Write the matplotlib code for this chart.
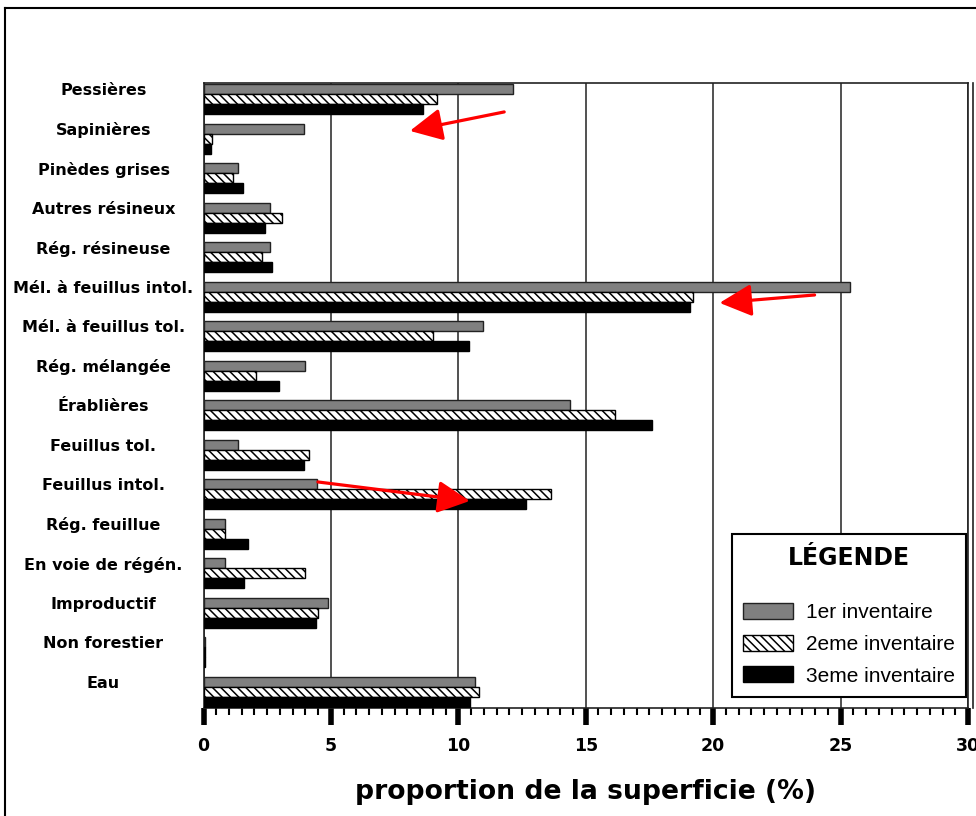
import numpy as np
import matplotlib
matplotlib.use('Agg')
import matplotlib.pyplot as plt
from matplotlib.lines import Line2D
from matplotlib.ticker import MultipleLocator

plt.rcParams['font.family'] = ['Liberation Sans', 'DejaVu Sans']
plt.rcParams['hatch.linewidth'] = 1.1

categories = ['Pessières', 'Sapinières', 'Pinèdes grises', 'Autres résineux',
              'Rég. résineuse', 'Mél. à feuillus intol.', 'Mél. à feuillus tol.',
              'Rég. mélangée', 'Érablières', 'Feuillus tol.', 'Feuillus intol.',
              'Rég. feuillue', 'En voie de régén.', 'Improductif', 'Non forestier', 'Eau']
inv1 = [12.15, 3.95, 1.35, 2.6, 2.6, 25.35, 10.95, 4.0, 14.4, 1.35, 4.45, 0.85, 0.85, 4.9, 0.05, 10.65]
inv2 = [9.15, 0.35, 1.15, 3.1, 2.3, 19.2, 9.0, 2.05, 16.15, 4.15, 13.65, 0.85, 4.0, 4.5, 0.05, 10.8]
inv3 = [8.6, 0.3, 1.55, 2.4, 2.7, 19.1, 10.4, 2.95, 17.6, 3.95, 12.65, 1.75, 1.6, 4.4, 0.05, 10.45]
series_labels = ['1er inventaire', '2eme inventaire', '3eme inventaire']
x_label = 'proportion de la superficie (%)'
legend_title = 'LÉGENDE'

bold_font = ['DejaVu Sans']

fig = plt.figure(figsize=(9.76, 8.16), dpi=100)
ax = fig.add_axes([203.5 / 976, 1 - 708 / 816, (968 - 203.5) / 976, (708 - 83) / 816])

y = np.arange(len(categories))
h = 0.253
b1 = ax.barh(y, inv1, height=h, color='#808080', edgecolor='#222222', linewidth=1.0, zorder=3)
b2 = ax.barh(y + h, inv2, height=h, color='white', edgecolor='black', linewidth=1.0,
             hatch='\\\\\\\\', zorder=3)
b3 = ax.barh(y + 2 * h, inv3, height=h, color='black', edgecolor='black', linewidth=1.0, zorder=3)

ax.set_xlim(0, 30)
ax.set_ylim(15.658, -0.152)
ax.xaxis.set_major_locator(MultipleLocator(5))
ax.xaxis.set_minor_locator(MultipleLocator(0.5))
ax.xaxis.grid(True, which='major', color='#333333', linewidth=1.2, zorder=0)
ax.set_axisbelow(True)

ax.set_yticks(y)
ax.set_yticklabels(categories, fontsize=11.5, fontweight='bold', family=bold_font)
for lab in ax.get_yticklabels():
    lab.set_horizontalalignment('center')
ax.tick_params(axis='y', length=0, pad=72)
ax.tick_params(axis='x', which='major', length=12, width=4, direction='out', pad=9)
ax.tick_params(axis='x', which='minor', length=5, width=1.5, direction='out')
for lab in ax.get_xticklabels():
    lab.set_fontweight('bold')
    lab.set_family(bold_font)
    lab.set_fontsize(12.5)

for s in ['top', 'right', 'left', 'bottom']:
    ax.spines[s].set_linewidth(1.2)
    ax.spines[s].set_color('#222222')

ax.set_xlabel(x_label, fontsize=19.2, fontweight='bold', family=bold_font, labelpad=17)

leg = ax.legend([b1, b2, b3], series_labels, title=legend_title,
                loc='lower right', bbox_to_anchor=(966 / 976, 1 - 697 / 816),
                bbox_transform=fig.transFigure, borderaxespad=0, fancybox=False,
                framealpha=1, edgecolor='black', fontsize=15, handlelength=2.4,
                handleheight=0.8, handletextpad=0.6, labelspacing=0.6,
                borderpad=0.55,
                title_fontproperties={'size': 17, 'weight': 'bold', 'family': bold_font})
leg.get_frame().set_linewidth(1.5)
leg._legend_box.sep = 24
leg.set_zorder(5)

# red arrows
arrow_kw = dict(arrowstyle='-|>,head_length=0.9,head_width=0.45', color='red',
                lw=2.3, mutation_scale=22, shrinkA=0, shrinkB=0)
ax.annotate('', xy=(8.1, 1.06), xytext=(11.8, 0.58), arrowprops=arrow_kw, zorder=6)
ax.annotate('', xy=(20.25, 5.41), xytext=(23.98, 5.21), arrowprops=arrow_kw, zorder=6)
ax.annotate('', xy=(10.45, 10.42), xytext=(4.49, 9.94), arrowprops=arrow_kw, zorder=6)

# outer frame and double right border
fig.add_artist(Line2D([5 / 976, 1], [1 - 8 / 816, 1 - 8 / 816], color='black', lw=1.5))
fig.add_artist(Line2D([5 / 976, 5 / 976], [0, 1 - 8 / 816], color='black', lw=1.5))
fig.add_artist(Line2D([973 / 976, 973 / 976], [1 - 708 / 816, 1 - 83 / 816], color='#222222', lw=1.2))

fig.savefig('out.png', dpi=100)
